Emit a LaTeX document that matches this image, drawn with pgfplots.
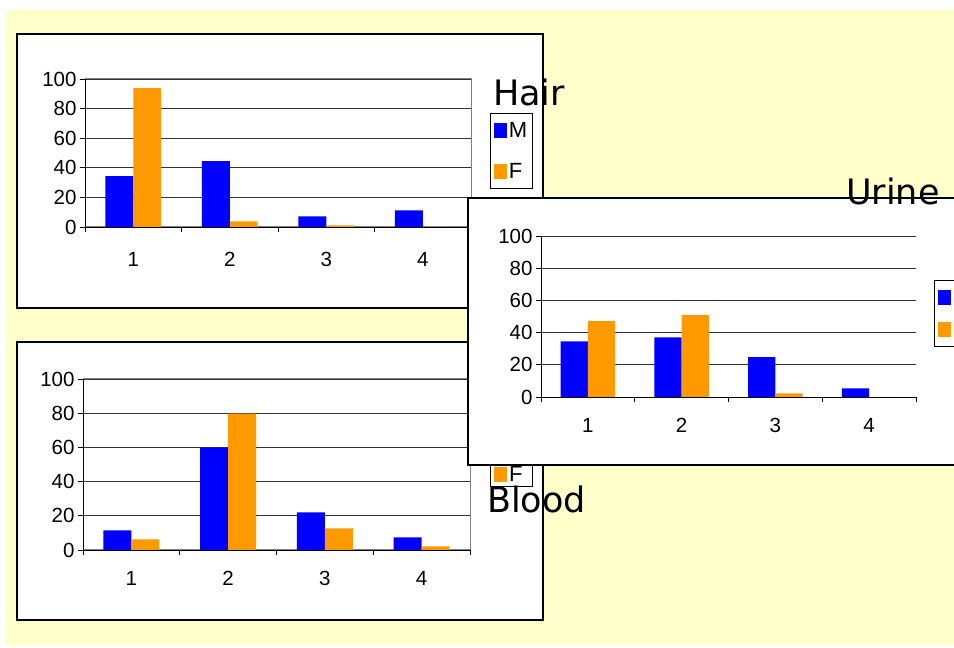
\documentclass[border=0pt]{standalone}
\usepackage{pgfplots}
\pgfplotsset{compat=1.18}
\usepackage{fontspec}
\setmainfont{Liberation Sans}
\newfontfamily\titlefont{DejaVu Sans}
\definecolor{barblue}{HTML}{0000FF}
\definecolor{barorange}{HTML}{FF9900}
\definecolor{slide}{HTML}{FFFFCC}

\pgfplotsset{
  panel/.style={
    scale only axis,
    clip=false,
    ybar=0pt,
    bar width=0.29,
    xmin=0.5, xmax=4.5,
    ymin=0, ymax=100,
    enlargelimits=false,
    xtick={1,2,3,4},
    minor xtick={0.5,1.5,2.5,3.5,4.5},
    ytick={0,20,...,100},
    tick pos=left,
    tick align=outside,
    major tick length=5pt,
    minor tick length=5pt,
    major x tick style={draw=none},
    minor x tick style={black, line width=0.8pt},
    major y tick style={black, line width=0.8pt},
    ymajorgrids,
    major grid style={black!80, line width=0.8pt},
    tick label style={font=\fontsize{20.5}{23}\selectfont},
    /pgf/number format/assume math mode=true,
    xticklabel style={yshift=-17pt},
    legend cell align=left,
    legend image code/.code={\path[#1,draw=none] (0pt,-7.5pt) rectangle (13pt,7.5pt);},
    legend style={draw=black, line width=1pt, fill=white,
      font=\fontsize{22}{24}\selectfont, inner xsep=3.5pt, inner ysep=7pt,
      /tikz/every odd column/.style={column sep=0pt}},
  },
  boxed/.style={axis line style={black!50, line width=1pt}},
  mser/.style={fill=barblue, draw=none},
  fser/.style={fill=barorange, draw=none},
}

\begin{document}
\begin{tikzpicture}[x=1pt, y=1pt]
\begin{scope}
\clip (0,0) rectangle (954,648);
\fill[white] (0,0) rectangle (954,648);
\fill[slide] (6,3) rectangle (954,638);

% Hair
\filldraw[fill=white, draw=black, line width=1.5pt] (17,340) rectangle (543,614);
\begin{axis}[panel, boxed, at={(85pt,421pt)}, anchor=south west, width=386pt, height=148pt,
  legend style={at={(1.049,0.770)}, anchor=north west, row sep=20pt}]
\addplot[mser] coordinates {(1,34.3) (2,44.5) (3,7.2) (4,11.3)};
\addplot[fser] coordinates {(1,93.9) (2,3.8) (3,1.1) (4,0)};
\legend{M,F}
\draw[black, line width=0.8pt] (rel axis cs:0,1) -- (rel axis cs:0,0) -- (rel axis cs:1,0);
\end{axis}
\node[anchor=base west, inner sep=0pt, font=\titlefont\fontsize{35}{38}\selectfont] at (493,542) {Hair};

% Blood
\filldraw[fill=white, draw=black, line width=1.5pt] (17,28) rectangle (543,306);
\begin{axis}[panel, boxed, at={(83pt,98pt)}, anchor=south west, width=387pt, height=171pt,
  xticklabel style={yshift=4pt},
  legend style={at={(1.052,0.368)}, anchor=south west, row sep=20pt, inner ysep=2pt}]
\addplot[mser] coordinates {(1,11.5) (2,59.9) (3,22.0) (4,7.4)};
\addplot[fser] coordinates {(1,6.2) (2,79.8) (3,12.6) (4,2.1)};
\legend{M,F}
\draw[black, line width=0.8pt] (rel axis cs:0,1) -- (rel axis cs:0,0) -- (rel axis cs:1,0);
\end{axis}
\node[anchor=base west, inner sep=0pt, font=\titlefont\fontsize{35}{38}\selectfont] at (487,135) {Blood};

% Urine
\filldraw[fill=white, draw=black, line width=1.5pt] (468,183) rectangle (990,450);
\begin{axis}[panel, at={(541pt,251pt)}, anchor=south west, width=375pt, height=161pt,
  axis x line*=bottom, axis y line*=left, axis line style={black, line width=0.8pt},
  xticklabel style={yshift=4pt},
  legend style={at={(1.048,0.727)}, anchor=north west, row sep=11pt}]
\addplot[mser] coordinates {(1,34.6) (2,37.1) (3,24.7) (4,5.4)};
\addplot[fser] coordinates {(1,47.1) (2,50.8) (3,2.3) (4,0)};
\legend{M,F}
\end{axis}
\node[anchor=base west, inner sep=0pt, font=\titlefont\fontsize{35}{38}\selectfont] at (846,443) {Urine};
\end{scope}
\pgfresetboundingbox
\useasboundingbox (0,0) rectangle (954,648);
\end{tikzpicture}
\end{document}
